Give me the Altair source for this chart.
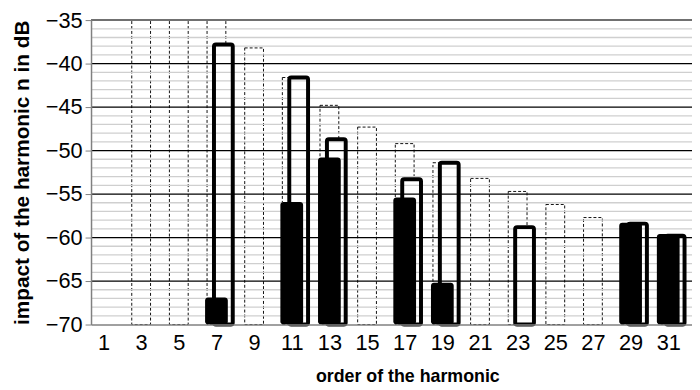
import altair as alt
import pandas as pd

# ---- data ----
harmonics = [1, 3, 5, 7, 9, 11, 13, 15, 17, 19, 21, 23, 25, 27, 29, 31]
limit_db = [None, -35, -35, -35, -38.2, -41.6, -44.8, -47.3, -49.2, -51.4,
            -53.2, -54.7, -56.2, -57.7, -59.2, -60.7]
outline_db = [None, None, None, -37.8, None, -41.6, -48.7, None, -53.3, -51.4,
              None, -58.8, None, None, -58.4, -59.8]
filled_db = [None, None, None, -66.9, None, -55.9, -50.8, None, -55.4, -65.2,
             None, None, None, None, -58.3, -59.6]
y_ticks = [-70, -65, -60, -55, -50, -45, -40, -35]

rows = []
for name, vals in (("limit", limit_db), ("outline", outline_db), ("filled", filled_db)):
    for n, v in zip(harmonics, vals):
        if v is not None:
            rows.append({"n": n, "series": name, "db": v})
df = pd.DataFrame(rows)

grid_rows = []
for v in range(-69, -35):
    grid_rows.append({"db": v, "kind": "major" if v % 5 == 0 else "minor"})
grid_df = pd.DataFrame(grid_rows)
top_df = pd.DataFrame({"db": [-35]})

FONT = "Liberation Sans"

x_enc = alt.X(
    "n:Q",
    scale=alt.Scale(domain=[0.6, 32.0], nice=False, zero=False),
    axis=alt.Axis(
        values=harmonics, format="d", title="order of the harmonic",
        labelFontSize=22, labelFont=FONT, labelColor="black",
        tickSize=0, labelPadding=8, grid=False,
        domainColor="#808080", domainWidth=1.5,
        titleFont=FONT, titleFontSize=18, titleFontWeight="bold", titleColor="black",
        titleX=320, titleY=58, titleBaseline="alphabetic", titleAnchor="start", titleAlign="center",
        zindex=1,
    ),
)
y_enc = alt.Y(
    "db:Q",
    scale=alt.Scale(domain=[-70, -35], nice=False, zero=False),
    axis=alt.Axis(
        values=y_ticks, title="impact of the harmonic n in dB",
        labelFontSize=22, labelFont=FONT, labelColor="black",
        tickSize=6, tickColor="#808080", labelPadding=3, grid=False,
        domainColor="#808080", domainWidth=1.5,
        titleFont=FONT, titleFontSize=21, titleFontWeight="bold", titleColor="black",
        titleX=-69, titleY=154, titleAngle=270, titleBaseline="middle", titleAlign="center",
        titleAnchor="start", zindex=1,
    ),
)

base = alt.Chart(df)

dashed = base.transform_filter(alt.datum.series == "limit").mark_bar(
    width=19, fill="white", fillOpacity=0, stroke="#111111", strokeWidth=1,
    strokeDash=[3, 2],
).encode(x=x_enc, y=y_enc, y2=alt.datum(-70))

outline_fill = base.transform_filter(alt.datum.series == "outline").mark_bar(
    width=19, xOffset=7, fill="white", strokeWidth=0,
).encode(x=x_enc, y=y_enc, y2=alt.datum(-70))

minor = alt.Chart(grid_df).transform_filter(alt.datum.kind == "minor").mark_rule(
    color="#cfcfcf", strokeWidth=1.3
).encode(y=y_enc)
major = alt.Chart(grid_df).transform_filter(alt.datum.kind == "major").mark_rule(
    color="black", strokeWidth=1.2
).encode(y=y_enc)
top = alt.Chart(top_df).mark_rule(color="#707070", strokeWidth=2).encode(y=y_enc)

outline = base.transform_filter(alt.datum.series == "outline").mark_bar(
    width=19, xOffset=7, fill="white", fillOpacity=0, stroke="black", strokeWidth=4,
    cornerRadius=2,
).encode(x=x_enc, y=y_enc, y2=alt.datum(-70))

filled = base.transform_filter(alt.datum.series == "filled").mark_bar(
    width=23, color="black", cornerRadius=3,
).encode(x=x_enc, y=y_enc, y2=alt.datum(-70))

chart = alt.layer(dashed, outline_fill, minor, major, top, outline, filled).properties(
    width=608, height=308,
    autosize=alt.AutoSizeParams(type="none"),
    padding={"left": 84, "top": 10, "right": 0, "bottom": 64},
    background="white",
).configure_view(stroke=None)

chart.save("out.html", embed_options={"renderer": "svg", "actions": False})
